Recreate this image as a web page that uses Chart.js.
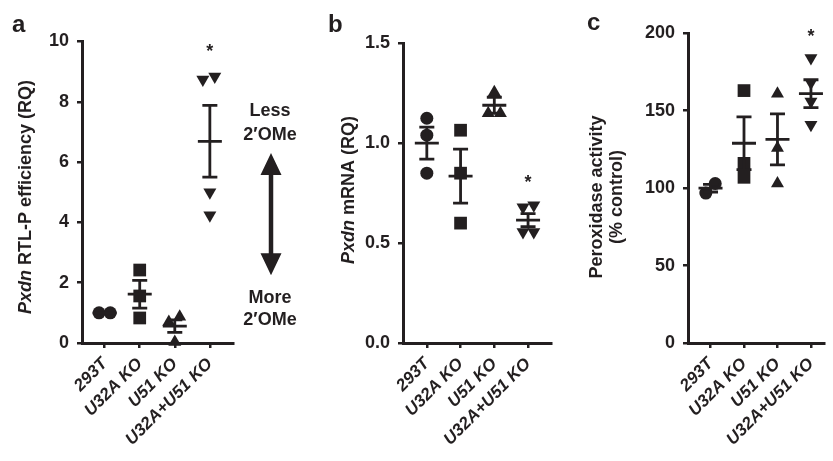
<!DOCTYPE html>
<html>
<head>
<meta charset="utf-8">
<script src="https://cdn.jsdelivr.net/npm/chart.js@4"></script>
<style>
  body { margin: 0; background: #fff; }
  #wrap { position: relative; width: 833px; height: 461px; overflow: hidden; }
  canvas { position: absolute; top: 0; }
</style>
</head>
<body>
<div id="wrap">
  <canvas id="chartA" width="300" height="461" style="left:0px"></canvas>
  <canvas id="chartB" width="260" height="461" style="left:300px"></canvas>
  <canvas id="chartC" width="273" height="461" style="left:560px"></canvas>
</div>
<script>
const groups = ['293T', 'U32A KO', 'U51 KO', 'U32A+U51 KO'];

// a: Pxdn RTL-P efficiency (RQ)
const rtlp = [[1.0, 1.0], [2.42, 1.56, 0.83], [0.7, 0.87, 0.03], [8.74, 8.84, 5.0, 4.24]];
const rtlpMean = [1.0, 1.62, 0.56, 6.69];
const rtlpSem = [0, 0.46, 0.21, 1.19];
const rtlpTicks = [0, 2, 4, 6, 8, 10];
const rtlpStars = [null, null, null, 9.83];

// b: Pxdn mRNA (RQ)
const mrna = [[1.125, 1.04, 0.85], [1.065, 0.85, 0.6], [1.255, 1.15, 1.15], [0.68, 0.69, 0.555, 0.555]];
const mrnaMean = [1.0, 0.835, 1.19, 0.615];
const mrnaSem = [0.08, 0.135, 0.04, 0.033];
const mrnaTicks = [0, 0.5, 1.0, 1.5];
const mrnaStars = [null, null, null, 0.825];

// c: Peroxidase activity (% control)
const perox = [[96.8, 103], [163, 116, 107], [161, 126, 103], [184, 168, 156, 141]];
const peroxMean = [100, 129, 131.5, 161];
const peroxSem = [2.5, 17, 16.5, 9];
const peroxTicks = [0, 50, 100, 150, 200];
const peroxStars = [null, null, null, 200.6];

// styling
const FONT = '"Liberation Sans", Arial, Helvetica, sans-serif';
const INK = '#231f20';
const markers = ['circle', 'rect', 'triangle', 'triangle'];
const markerRot = [0, 0, 0, 180];
const markerSize = [6.5, 9, 7.5, 7.5];
// sideways spread of overlapping dots
const jitA = [[-0.16, 0.16], [0, 0, 0], [-0.17, 0.14, 0], [-0.2, 0.14, 0, 0]];
const jitB = [[0, 0, 0], [0, 0, 0], [0, -0.18, 0.18], [-0.15, 0.17, -0.15, 0.17]];
const jitC = [[-0.14, 0.14], [0, 0, 0], [0, 0, 0], [0, 0, 0, 0]];

function makeDecor(d) {
  return {
    id: 'decor',
    afterDraw(chart) {
      const ctx = chart.ctx;
      const x = chart.scales.x, y = chart.scales.y;
      ctx.save();
      ctx.strokeStyle = INK;
      ctx.fillStyle = INK;
      ctx.lineWidth = 2.8;
      // mean +- SEM
      d.mean.forEach((m, i) => {
        const xc = x.getPixelForValue(i);
        const ym = y.getPixelForValue(m);
        const yt = y.getPixelForValue(m + d.sem[i]);
        const yb = y.getPixelForValue(m - d.sem[i]);
        ctx.beginPath();
        ctx.moveTo(xc, yt); ctx.lineTo(xc, yb);
        ctx.moveTo(xc - 12, ym); ctx.lineTo(xc + 12, ym);
        ctx.moveTo(xc - 7.5, yt); ctx.lineTo(xc + 7.5, yt);
        ctx.moveTo(xc - 7.5, yb); ctx.lineTo(xc + 7.5, yb);
        ctx.stroke();
      });
      // significance
      ctx.font = 'bold 18px ' + FONT;
      ctx.textAlign = 'center';
      ctx.textBaseline = 'alphabetic';
      d.stars.forEach((s, i) => {
        if (s === null) return;
        ctx.fillText('*', x.getPixelForValue(i), y.getPixelForValue(s) + 10);
      });
      // panel letter
      ctx.font = 'bold 24px ' + FONT;
      ctx.textAlign = 'left';
      ctx.fillText(d.letter, d.letterX, d.letterY);
      // y title
      d.title.forEach((line, li) => {
        ctx.save();
        ctx.translate(d.titleX[li], d.titleY);
        ctx.rotate(-Math.PI / 2);
        ctx.textBaseline = 'middle';
        ctx.textAlign = 'left';
        let total = 0;
        line.forEach(([t, st]) => { ctx.font = st + ' bold 18px ' + FONT; total += ctx.measureText(t).width; });
        let pos = -total / 2;
        line.forEach(([t, st]) => {
          ctx.font = st + ' bold 18px ' + FONT;
          ctx.fillText(t, pos, 0);
          pos += ctx.measureText(t).width;
        });
        ctx.restore();
      });
      if (d.extra) d.extra(chart, ctx);
      ctx.restore();
    }
  };
}

function arrowNote(chart, ctx) {
  const y = chart.scales.y;
  const ax = chart.chartArea.right + 38;
  const top = y.getPixelForValue(6.3), bot = y.getPixelForValue(2.25);
  const head = 22, half = 10.5;
  ctx.lineWidth = 4.5;
  ctx.beginPath();
  ctx.moveTo(ax, top + head - 2); ctx.lineTo(ax, bot - head + 2);
  ctx.stroke();
  ctx.beginPath();
  ctx.moveTo(ax, top); ctx.lineTo(ax + half, top + head); ctx.lineTo(ax - half, top + head); ctx.closePath();
  ctx.moveTo(ax, bot); ctx.lineTo(ax + half, bot - head); ctx.lineTo(ax - half, bot - head); ctx.closePath();
  ctx.fill();
  ctx.font = 'bold 18px ' + FONT;
  ctx.textAlign = 'center';
  ctx.textBaseline = 'middle';
  ctx.fillText('Less', ax - 1, top - 42);
  ctx.fillText('2\u2032OMe', ax - 1, top - 18);
  ctx.fillText('More', ax - 1, bot + 23);
  ctx.fillText('2\u2032OMe', ax - 1, bot + 45);
}

function axisStyle() {
  return {
    grid: { drawOnChartArea: false, drawTicks: true, tickLength: 5, lineWidth: 2.5, color: INK },
    border: { display: true, width: 3, color: INK }
  };
}

function makePanel(id, p) {
  return new Chart(document.getElementById(id), {
    type: 'scatter',
    data: {
      datasets: groups.map((g, i) => ({
        label: g,
        data: p.values[i].map((v, k) => ({ x: i + p.jitter[i][k], y: v })),
        pointStyle: markers[i],
        rotation: markerRot[i],
        pointRadius: markerSize[i],
        pointHoverRadius: markerSize[i],
        backgroundColor: INK,
        borderColor: INK,
        borderWidth: 0,
        clip: false
      }))
    },
    options: {
      responsive: false,
      animation: false,
      events: [],
      layout: { padding: { top: p.top, right: p.right, left: 0, bottom: 0 } },
      plugins: { legend: { display: false }, tooltip: { enabled: false } },
      scales: {
        x: {
          type: 'linear', min: p.xMin, max: p.xMax,
          afterBuildTicks: s => { s.ticks = groups.map((g, i) => ({ value: i })); },
          afterFit: s => { s.height = 461 - 343; },
          ticks: {
            autoSkip: false, minRotation: 45, maxRotation: 45, padding: 6, color: INK,
            font: { family: FONT, size: 17, weight: 'bold', style: 'italic' },
            callback: v => groups[v]
          },
          ...axisStyle()
        },
        y: {
          min: p.yTicks[0], max: p.yTicks[p.yTicks.length - 1],
          afterBuildTicks: s => { s.ticks = p.yTicks.map(v => ({ value: v })); },
          afterFit: s => { s.width = p.axisLeft; },
          ticks: {
            padding: 8, color: INK,
            font: { family: FONT, size: 18, weight: 'bold' },
            callback: v => v.toFixed(p.decimals)
          },
          ...axisStyle()
        }
      }
    },
    plugins: [makeDecor(p)]
  });
}

makePanel('chartA', {
  values: rtlp, mean: rtlpMean, sem: rtlpSem, stars: rtlpStars, yTicks: rtlpTicks, decimals: 0,
  jitter: jitA, xMin: -0.646, xMax: 3.66, axisLeft: 82, top: 41.5, right: 67,
  letter: 'a', letterX: 12, letterY: 32,
  title: [[['Pxdn', 'italic'], [' RTL-P efficiency (RQ)', '']]], titleX: [26], titleY: 197,
  extra: arrowNote
});

makePanel('chartB', {
  values: mrna, mean: mrnaMean, sem: mrnaSem, stars: mrnaStars, yTicks: mrnaTicks, decimals: 1,
  jitter: jitB, xMin: -0.706, xMax: 3.68, axisLeft: 103, top: 43.3, right: 8,
  letter: 'b', letterX: 28, letterY: 32,
  title: [[['Pxdn', 'italic'], [' mRNA (RQ)', '']]], titleX: [49], titleY: 190
});

makePanel('chartC', {
  values: perox, mean: peroxMean, sem: peroxSem, stars: peroxStars, yTicks: peroxTicks, decimals: 0,
  jitter: jitC, xMin: -0.673, xMax: 3.39, axisLeft: 128, top: 33.3, right: 0,
  letter: 'c', letterX: 27, letterY: 30,
  title: [[['Peroxidase activity', '']], [['(% control)', '']]], titleX: [37, 57], titleY: 197
});
</script>
</body>
</html>
